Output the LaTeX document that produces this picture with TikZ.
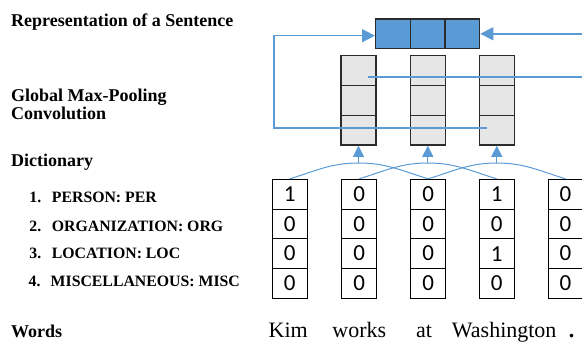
\documentclass[tikz,border=0pt]{standalone}
\usepackage{fontspec}
\setmainfont{Liberation Serif}
\newfontfamily\cellfont{Carlito}
\usetikzlibrary{arrows.meta}

\definecolor{lineblue}{HTML}{5B9BD5}
\definecolor{poolgray}{HTML}{E6E6E6}
\definecolor{pooledge}{HTML}{2B2B2B}

\tikzset{
	dictcell/.style={draw=black, line width=1pt, minimum width=35pt, minimum height=29.75pt, inner sep=0pt, font=\cellfont\fontsize{23}{23}\selectfont},
	poolcell/.style={draw=pooledge, fill=poolgray, line width=1.3pt, minimum width=35pt, minimum height=29.8pt, inner sep=0pt},
	sentcell/.style={draw=pooledge, fill=lineblue, line width=1.3pt, minimum width=34.67pt, minimum height=29.7pt, inner sep=0pt},
	feed/.style={draw=lineblue, line width=1.4pt},
	feedarrow/.style={feed, -{Triangle[length=13pt,width=13pt]}},
	window/.style={draw=lineblue, line width=1pt},
	uparrow/.style={draw=lineblue, line width=1pt, -{Triangle[length=11pt,width=11pt]}},
	rowlabel/.style={anchor=base west, inner sep=0pt, font=\bfseries\fontsize{18}{18}\selectfont},
	dictitem/.style={anchor=base west, inner sep=0pt, font=\bfseries\fontsize{15.8}{15.8}\selectfont},
	word/.style={anchor=base, inner sep=0pt, font=\fontsize{22}{22}\selectfont},
}

\begin{document}
\begin{tikzpicture}[x=1pt, y=-1pt]
	%%%%% START %%%%%
	\useasboundingbox (0, 0) rectangle (582, 341);
	\clip (0, 0) rectangle (582, 341);
	
	% row labels
	\node[rowlabel] (lsent) at (11, 26.7) {Representation of a Sentence};
	\node[rowlabel] (lpool) at (11, 101.7) {Global Max-Pooling};
	\node[rowlabel] (lconv) at (11, 119.3) {Convolution};
	\node[rowlabel] (ldict) at (11, 166.7) {Dictionary};
	\node[rowlabel] (lword) at (11, 337.8) {Words};
	
	\node[dictitem] (n1) at (29.3, 202.7) {1.};
	\node[dictitem] (t1) at (51.7, 202.7) {PERSON: PER};
	\node[dictitem] (n2) at (29.3, 231) {2.};
	\node[dictitem] (t2) at (51.7, 231) {ORGANIZATION: ORG};
	\node[dictitem] (n3) at (29.3, 258.7) {3.};
	\node[dictitem] (t3) at (51.7, 258.7) {LOCATION: LOC};
	\node[dictitem] (n4) at (28.5, 286.7) {4.};
	\node[dictitem] (t4) at (50.5, 286.7) {MISCELLANEOUS: MISC};
	
	% sentence vector
	\node[sentcell] (s1) at (393.0, 33.8) {};
	\node[sentcell] (s2) at (427.7, 33.8) {};
	\node[sentcell] (s3) at (462.3, 33.8) {};
	
	% convolution columns
	\node[poolcell] (g11) at (358.5, 70.6) {};
	\node[poolcell] (g12) at (358.5, 100.4) {};
	\node[poolcell] (g13) at (358.5, 130.2) {};
	
	\node[poolcell] (g21) at (427.8, 70.6) {};
	\node[poolcell] (g22) at (427.8, 100.4) {};
	\node[poolcell] (g23) at (427.8, 130.2) {};
	
	\node[poolcell] (g31) at (496.8, 70.6) {};
	\node[poolcell] (g32) at (496.8, 100.4) {};
	\node[poolcell] (g33) at (496.8, 130.2) {};
	
	% dictionary features, one column per word
	\node[dictcell] (d11) at (289.8, 194.2) {1};
	\node[dictcell] (d12) at (289.8, 223.9) {0};
	\node[dictcell] (d13) at (289.8, 253.6) {0};
	\node[dictcell] (d14) at (289.8, 283.4) {0};
	
	\node[dictcell] (d21) at (359.2, 194.2) {0};
	\node[dictcell] (d22) at (359.2, 223.9) {0};
	\node[dictcell] (d23) at (359.2, 253.6) {0};
	\node[dictcell] (d24) at (359.2, 283.4) {0};
	
	\node[dictcell] (d31) at (428.2, 194.2) {0};
	\node[dictcell] (d32) at (428.2, 223.9) {0};
	\node[dictcell] (d33) at (428.2, 253.6) {0};
	\node[dictcell] (d34) at (428.2, 283.4) {0};
	
	\node[dictcell] (d41) at (496.7, 194.2) {1};
	\node[dictcell] (d42) at (496.7, 223.9) {0};
	\node[dictcell] (d43) at (496.7, 253.6) {1};
	\node[dictcell] (d44) at (496.7, 283.4) {0};
	
	\node[dictcell] (d51) at (565.5, 194.2) {0};
	\node[dictcell] (d52) at (565.5, 223.9) {0};
	\node[dictcell] (d53) at (565.5, 253.6) {0};
	\node[dictcell] (d54) at (565.5, 283.4) {0};
	
	% words
	\node[word] (w1) at (288.3, 337.3) {Kim};
	\node[word] (w2) at (359.3, 337.3) {works};
	\node[word] (w3) at (424, 337.3) {at};
	\node[word] (w4) at (504.2, 337.3) {Washington};
	\node[word] (w5) at (571.7, 337.3) {\textbf{.}};
	
	% convolution windows of width three
	\coordinate (p1) at (358.5, 163);
	\coordinate (p2) at (427.8, 163);
	\coordinate (p3) at (496.8, 163);
	\draw[window] (d11.north) to[out=17, in=180] (p1) to[out=0, in=163] (d31.north);
	\draw[window] (d21.north) to[out=17, in=180] (p2) to[out=0, in=163] (d41.north);
	\draw[window] (d31.north) to[out=17, in=180] (p3) to[out=0, in=163] (d51.north);
	\draw[uparrow] (p1) -- (g13.south);
	\draw[uparrow] (p2) -- (g23.south);
	\draw[uparrow] (p3) -- (g33.south);
	
	% pooling into the sentence vector (yshift is upwards here)
	\coordinate (loopleft) at (274, 128);
	\coordinate (inright) at (582, 33.8);
	\coordinate (outright) at (582, 77);
	\draw[feedarrow] ([xshift=-10pt, yshift=2.2pt]g33.center) -- (loopleft) |- ([yshift=-1.9pt]s1.west);
	\draw[feedarrow] (inright) -- (s3.east);
	\draw[feed] ([xshift=9pt, yshift=-6.4pt]g11.center) -- (outright);
	
	%%%%% END %%%%%
\end{tikzpicture}
\end{document}
